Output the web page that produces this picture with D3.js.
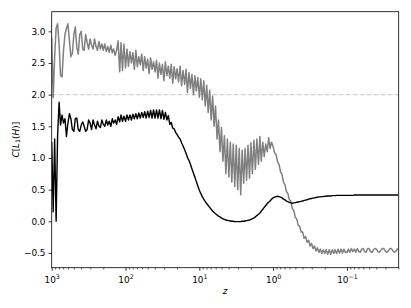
<!DOCTYPE html>
<html><head><meta charset="utf-8">
<script src="https://cdn.jsdelivr.net/npm/d3@7"></script>
<style>body{margin:0;background:#fff}svg{display:block}text{font-family:"DejaVu Sans",sans-serif}</style>
</head><body><svg id="c" width="411" height="308"></svg>
<script>
// redshift sampling grid
const zValues = [
1000,955,912,871,832,794,759,724,692,661,631,603,575,550,525,501,479,457,437,417,398,380,363,347,331,316,302,288,275,263,251,240,229,219,209,200,191,182,174,166,158,151,145,138,132,126,120,115,110,105,
100,95.5,91.2,87.1,83.2,79.4,75.9,72.4,69.2,66.1,63.1,60.3,57.5,55.0,52.5,50.1,47.9,45.7,43.7,41.7,39.8,38.0,36.3,34.7,33.1,31.6,30.2,28.8,27.5,26.3,25.1,24.0,22.9,21.9,20.9,20.0,19.1,18.2,17.4,16.6,15.8,15.1,14.5,13.8,13.2,12.6,12.0,11.5,11.0,10.5,
10,9.55,9.12,8.71,8.32,7.94,7.59,7.24,6.92,6.61,6.31,6.03,5.75,5.50,5.25,5.01,4.79,4.57,4.37,4.17,3.98,3.80,3.63,3.47,3.31,3.16,3.02,2.88,2.75,2.63,2.51,2.40,2.29,2.19,2.09,2.00,1.91,1.82,1.74,1.66,1.58,1.51,1.45,1.38,1.32,1.26,1.20,1.15,1.10,1.05,
1,0.955,0.912,0.871,0.832,0.794,0.759,0.724,0.692,0.661,0.631,0.603,0.575,0.550,0.525,0.501,0.479,0.457,0.437,0.417,0.398,0.380,0.363,0.347,0.331,0.316,0.302,0.288,0.275,0.263,0.251,0.240,0.229,0.219,0.209,0.200,0.191,0.182,0.174,0.166,0.158,0.151,0.145,0.138,0.132,0.126,0.120,0.115,0.110,0.105,
0.1,0.0955,0.0912,0.0871,0.0832,0.0794,0.0759,0.0724,0.0692,0.0661,0.0631,0.0603,0.0575,0.0550,0.0525,0.0501,0.0479,0.0457,0.0437,0.0417,0.0398,0.0380,0.0363,0.0347,0.0331,0.0316,0.0302,0.0288,0.0275,0.0263,0.0251,0.0240,0.0229,0.0219,0.0209,0.0200
];
// grey series
const grayValues = [
2.9,1.95,2.6,3.05,3.12,2.8,2.3,2.28,2.7,2.95,
3.05,3.12,2.85,2.6,2.65,2.95,3.07,2.75,2.64,2.95,
3.0,2.72,2.7,2.95,2.82,2.72,2.88,2.78,2.72,2.88,
2.76,2.7,2.84,2.72,2.8,2.7,2.8,2.68,2.76,2.67,
2.78,2.66,2.72,2.62,2.7,2.85,2.36,2.82,2.38,2.8,
2.42,2.72,2.45,2.68,2.5,2.66,2.4,2.7,2.44,2.6,
2.47,2.64,2.38,2.6,2.42,2.56,2.33,2.58,2.4,2.52,
2.36,2.54,2.26,2.5,2.32,2.48,2.22,2.52,2.3,2.45,
2.26,2.48,2.18,2.44,2.25,2.41,2.2,2.45,2.14,2.38,
2.16,2.4,2.03,2.35,2.1,2.32,2.0,2.3,2.06,2.27,
1.96,2.25,1.92,2.22,1.82,2.15,1.72,2.07,1.6,1.98,
1.5,1.82,1.3,1.6,1.1,1.48,0.95,1.35,0.75,1.3,
0.7,1.25,0.62,1.22,0.55,1.2,0.5,1.15,0.42,1.12,
0.6,1.15,0.65,1.2,0.68,1.24,0.75,1.28,0.82,1.3,
0.9,1.34,0.95,1.25,1.02,1.22,1.1,1.32,1.15,1.25,
1.18,1.08,1.05,0.94,0.9,0.78,0.74,0.62,0.58,0.47,
0.44,0.34,0.32,0.2,0.17,0.06,0.04,-0.06,-0.08,-0.17,
-0.17,-0.27,-0.24,-0.33,-0.3,-0.39,-0.35,-0.43,-0.39,-0.47,
-0.42,-0.49,-0.44,-0.51,-0.45,-0.51,-0.45,-0.52,-0.45,-0.52,
-0.45,-0.51,-0.45,-0.51,-0.44,-0.5,-0.44,-0.5,-0.44,-0.49,
-0.49,-0.44,-0.49,-0.43,-0.48,-0.44,-0.49,-0.43,-0.48,-0.49,
-0.44,-0.43,-0.48,-0.49,-0.43,-0.43,-0.48,-0.49,-0.45,-0.43,
-0.44,-0.48,-0.49,-0.46,-0.43,-0.43,-0.47,-0.49,-0.47,-0.43,
-0.43,-0.46,-0.49,-0.48,-0.44,-0.45
];
// black series
const blackValues = [
1.25,0.15,1.3,0.0,1.35,1.88,1.52,1.68,1.55,1.62,
1.34,1.55,1.7,1.62,1.45,1.42,1.62,1.63,1.45,1.42,
1.52,1.57,1.5,1.42,1.45,1.6,1.55,1.45,1.6,1.52,
1.46,1.58,1.5,1.48,1.6,1.53,1.5,1.6,1.52,1.58,
1.5,1.62,1.55,1.6,1.53,1.65,1.57,1.68,1.58,1.66,
1.58,1.68,1.6,1.68,1.6,1.69,1.62,1.7,1.62,1.71,
1.63,1.72,1.64,1.73,1.63,1.74,1.64,1.75,1.63,1.76,
1.63,1.76,1.63,1.76,1.62,1.75,1.61,1.72,1.6,1.67,
1.53,1.56,1.47,1.46,1.4,1.37,1.33,1.3,1.24,1.19,
1.13,1.07,1.01,0.96,0.9,0.83,0.76,0.7,0.63,0.56,
0.49,0.44,0.39,0.35,0.31,0.28,0.25,0.22,0.19,0.16,
0.14,0.12,0.1,0.08,0.07,0.05,0.04,0.03,0.02,0.015,
0.01,0.005,0,0,-0.005,-0.005,-0.005,-0.005,-0.005,0,
0,0.005,0.01,0.015,0.02,0.03,0.04,0.055,0.07,0.09,
0.11,0.13,0.16,0.19,0.22,0.25,0.28,0.3,0.32,0.35,
0.37,0.38,0.39,0.395,0.39,0.38,0.37,0.35,0.34,0.32,
0.31,0.3,0.29,0.285,0.29,0.295,0.3,0.305,0.31,0.315,
0.32,0.33,0.335,0.34,0.35,0.355,0.36,0.365,0.37,0.375,
0.38,0.385,0.385,0.39,0.39,0.395,0.395,0.4,0.4,0.4,
0.405,0.405,0.405,0.41,0.41,0.41,0.41,0.41,0.41,0.41,
0.41,0.41,0.41,0.41,0.41,0.415,0.415,0.415,0.415,0.415,
0.415,0.415,0.415,0.415,0.415,0.415,0.415,0.415,0.415,0.415,
0.415,0.415,0.415,0.415,0.415,0.415,0.415,0.415,0.415,0.415,
0.415,0.415,0.415,0.415,0.415,0.415
];
const yTicks = [-0.5,0,0.5,1,1.5,2,2.5,3];
const xTicks = [1000,100,10,1,0.1];
const xTickExp = ["3","2","1","0","\u22121"];
const refLevel = 2.0;
const xDomain = [1000, 0.0199];
const yDomain = [-0.733, 3.31];

const m = {l:51.7, r:398.7, t:11.7, b:267.7};
const fs = 8.9;
const svg = d3.select("#c");
const x = d3.scaleLog().domain(xDomain).range([m.l, m.r]);
const y = d3.scaleLinear().domain(yDomain).range([m.b, m.t]);

svg.append("defs").append("clipPath").attr("id","clip")
  .append("rect").attr("x",m.l).attr("y",m.t).attr("width",m.r-m.l).attr("height",m.b-m.t);

const plot = svg.append("g").attr("clip-path","url(#clip)");
plot.append("line").attr("x1",m.l).attr("x2",m.r).attr("y1",y(refLevel)).attr("y2",y(refLevel))
  .attr("stroke","#d3d3d3").attr("stroke-width",1.2).attr("stroke-dasharray","4.9,2.1");

const line = d3.line().x(d=>x(d[0])).y(d=>y(d[1]));
const grayPts = zValues.map((z,i)=>[z,grayValues[i]]);
const blackPts = zValues.map((z,i)=>[z,blackValues[i]]);
plot.append("path").attr("d",line(grayPts)).attr("fill","none").attr("stroke","#808080")
  .attr("stroke-width",1.5).attr("stroke-linejoin","round");
plot.append("path").attr("d",line(blackPts)).attr("fill","none").attr("stroke","#000")
  .attr("stroke-width",1.4).attr("stroke-linejoin","round");

// axes
const gx = svg.append("g").attr("transform",`translate(0,${m.b})`)
  .call(d3.axisBottom(x).tickValues(xTicks).tickSize(3.1).tickPadding(3.1).tickFormat(()=>""));
gx.select(".domain").remove();
gx.selectAll(".tick line").attr("stroke","#000").attr("stroke-width",0.8);
gx.selectAll(".tick text").each(function(d,i){
  const t = d3.select(this).attr("dy",null).attr("y",15.3).attr("font-size",fs).attr("fill","#000");
  t.append("tspan").text("10");
  t.append("tspan").attr("dy",-4).attr("font-size",6.3).text(xTickExp[i]);
});
const minor = x.ticks().filter(v => Math.abs(Math.log10(v)-Math.round(Math.log10(v)))>1e-6);
const gm = svg.append("g").attr("transform",`translate(0,${m.b})`)
  .call(d3.axisBottom(x).tickValues(minor).tickSize(1.8).tickFormat(()=>""));
gm.select(".domain").remove();
gm.selectAll(".tick line").attr("stroke","#000").attr("stroke-width",0.6);

const gy = svg.append("g").attr("transform",`translate(${m.l},0)`)
  .call(d3.axisLeft(y).tickValues(yTicks).tickSize(3.1).tickPadding(3.1)
    .tickFormat(v => d3.format(".1f")(v).replace("-","\u2212")));
gy.select(".domain").remove();
gy.selectAll(".tick line").attr("stroke","#000").attr("stroke-width",0.8);
gy.selectAll(".tick text").attr("font-size",fs).attr("fill","#000").attr("font-family","DejaVu Sans");
gx.attr("font-family","DejaVu Sans");

// frame
svg.append("rect").attr("x",m.l).attr("y",m.t).attr("width",m.r-m.l).attr("height",m.b-m.t)
  .attr("fill","none").attr("stroke","#000").attr("stroke-width",0.8);

// labels
svg.append("text").attr("x",(m.l+m.r)/2).attr("y",293.5).attr("text-anchor","middle")
  .attr("font-size",fs).attr("font-style","italic").text("z");
const yl = svg.append("text").attr("transform",`translate(18.5,${(m.t+m.b)/2}) rotate(-90)`)
  .attr("text-anchor","middle").attr("font-size",fs);
yl.append("tspan").attr("font-style","italic").text("C");
yl.append("tspan").text("[");
yl.append("tspan").attr("font-style","italic").text("L");
yl.append("tspan").attr("font-size",6.3).attr("dy",1.8).text("1");
yl.append("tspan").attr("dy",-1.8).text("(");
yl.append("tspan").attr("font-style","italic").text("H");
yl.append("tspan").text(")]");
</script></body></html>
